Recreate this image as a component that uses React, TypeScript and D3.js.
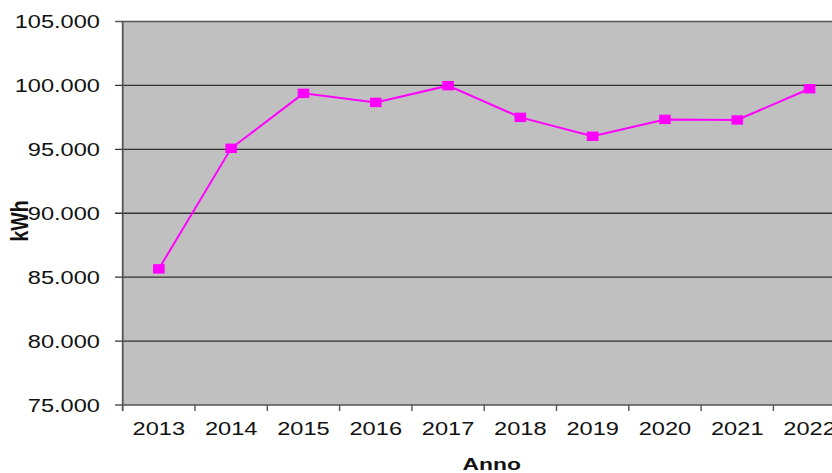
import React from "react";
import * as d3 from "d3";

const years = ["2013", "2014", "2015", "2016", "2017", "2018", "2019", "2020", "2021", "2022"];
const kwh = [85650, 95080, 99380, 98670, 99980, 97500, 96020, 97340, 97300, 99740];
const yTicks = [75000, 80000, 85000, 90000, 95000, 100000, 105000];

const W = 832;
const H = 473;
const SX = 1.27;

export default function App() {
  const x = d3.scaleBand<string>().domain(years).range([122.7, 845.7]).padding(0);
  const y = d3.scaleLinear().domain([75000, 105000]).range([405, 21.5]);
  const fmt = d3.formatLocale({ decimal: ",", thousands: ".", grouping: [3], currency: ["", "€"] }).format(",");
  const line = d3
    .line<number>()
    .x((_, i) => (x(years[i]) as number) + x.bandwidth() / 2)
    .y((d) => y(d));
  const left = x.range()[0];
  const font = "'Liberation Sans', Arial, sans-serif";

  return (
    <div style={{ position: "absolute", left: 0, top: 0 }}>
      <svg width={W} height={H} style={{ display: "block" }}>
        <rect x={0} y={0} width={W} height={H} fill="#ffffff" />
        <rect x={left} y={y(105000)} width={W - left} height={y(75000) - y(105000)} fill="#c0c0c0" />
        {yTicks.map((t) => (
          <g key={t}>
            <line x1={115} x2={W} y1={y(t)} y2={y(t)} stroke={t === 105000 || t === 75000 ? "#555" : "#333"} strokeWidth={1.4} />
            <g transform={`translate(100,${y(t) + 6.7}) scale(${SX},1)`}>
              <text textAnchor="end" fontFamily={font} fontSize={18.6} fill="#111">
                {fmt(t)}
              </text>
            </g>
          </g>
        ))}
        <line x1={left} x2={left} y1={y(105000)} y2={y(75000) + 6} stroke="#555" strokeWidth={1.8} />
        {years.map((yr, i) => (
          <g key={yr}>
            {i > 0 && (
              <line x1={x(yr) as number} x2={x(yr) as number} y1={y(75000)} y2={y(75000) + 6} stroke="#555" strokeWidth={1.4} />
            )}
            <g transform={`translate(${(x(yr) as number) + x.bandwidth() / 2},435) scale(${SX},1)`}>
              <text textAnchor="middle" fontFamily={font} fontSize={18.6} fill="#111">
                {yr}
              </text>
            </g>
          </g>
        ))}
        <path d={line(kwh) || ""} fill="none" stroke="#ff00ff" strokeWidth={2} />
        {kwh.map((v, i) => (
          <rect
            key={i}
            x={(x(years[i]) as number) + x.bandwidth() / 2 - 5.8}
            y={y(v) - 4.7}
            width={11.6}
            height={9.4}
            fill="#ff00ff"
          />
        ))}
        <g transform={`translate(28,221) scale(${SX},1) rotate(-90)`}>
          <text textAnchor="middle" fontFamily={font} fontWeight="bold" fontSize={19.5} fill="#111">
            kWh
          </text>
        </g>
        <g transform={`translate(491.7,470) scale(1.36,1)`}>
          <text textAnchor="middle" fontFamily={font} fontWeight="bold" fontSize={16.8} fill="#111">
            Anno
          </text>
        </g>
      </svg>
    </div>
  );
}
